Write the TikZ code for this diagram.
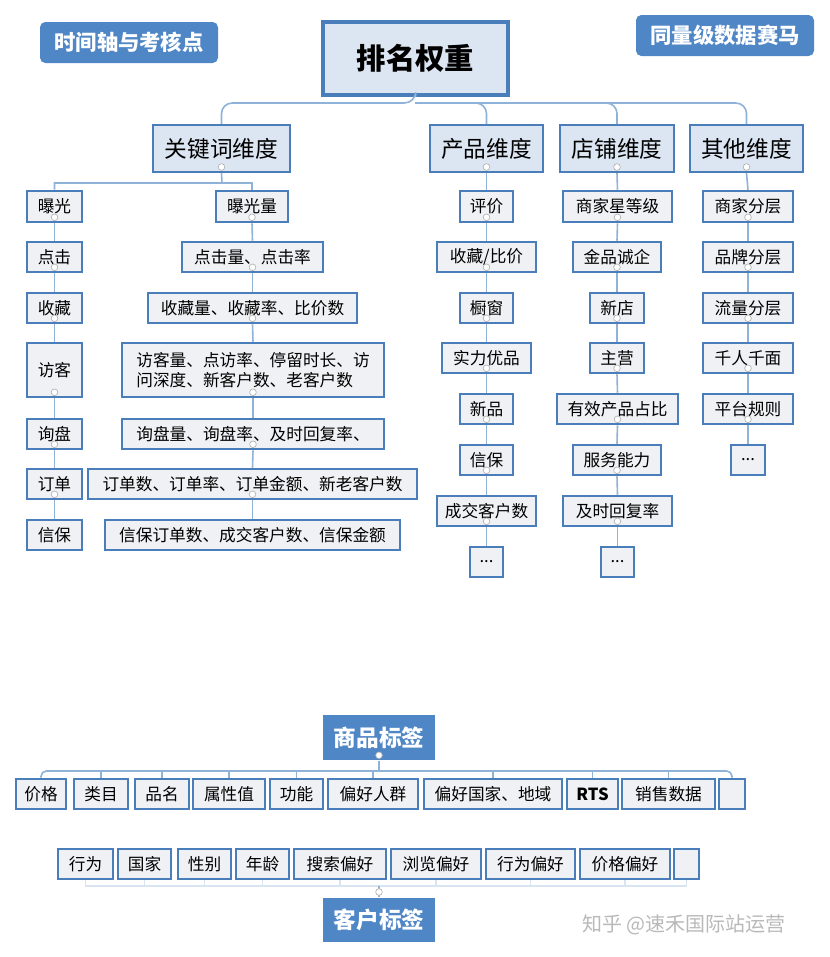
\documentclass[tikz,border=0pt]{standalone}
\usepackage{fontspec}
\setmainfont{Noto Sans CJK SC}
\usetikzlibrary{positioning}
\definecolor{edgeblue}{RGB}{74,126,187}
\definecolor{linkblue}{RGB}{143,178,217}
\definecolor{fillblue}{RGB}{79,134,198}
\definecolor{catfill}{RGB}{220,230,242}
\definecolor{itemfill}{RGB}{240,241,244}
\tikzset{every picture/.style={line width=0.75pt}}
\tikzset{
  item/.style={draw=edgeblue,fill=itemfill,line width=1.9pt,inner sep=0pt,align=center,font=\fontsize{12.5}{15}\selectfont},
  cat/.style={item,fill=catfill,line width=1.5pt,font=\fontsize{17}{20}\selectfont},
  tag/.style={fill=fillblue,text=white,inner sep=0pt,font=\bfseries\fontsize{16}{19}\selectfont},
  link/.style={draw=linkblue,line width=1.2pt},
  knob/.style={circle,draw=gray!60,fill=white,line width=0.5pt,inner sep=0pt,minimum size=5pt},
}
% box from corners (x1,y1)-(x2,y2)
\newcommand{\bx}[7][]{\node[item,#1,minimum width={(#5-#3)*0.75pt},minimum height={(#6-#4)*0.75pt}] (#2) at ({(#3+#5)/2},{(#4+#6)/2}) {#7};}
\newcommand{\mk}[1]{\node[knob] at ([yshift=-4.5pt]#1.south) {};}

\begin{document}
\begin{tikzpicture}[x=0.75pt,y=0.75pt,yscale=-1,xscale=1]
        \useasboundingbox[fill=white] (0,0) rectangle (830,957);

        % header
        \bx[tag,rounded corners=4pt,draw=none]{timeline}{40}{22}{218}{63}{时间轴与考核点}
        \bx[tag,rounded corners=4pt,draw=none]{race}{636}{15}{814}{56}{同量级数据赛马}
        \bx[cat,line width=2.6pt,font=\bfseries\fontsize{22}{26}\selectfont]{root}{323}{22}{508}{95}{排名权重}

        % dimensions
        \bx[cat]{kw}{153}{125}{290}{172}{关键词维度}
        \bx[cat]{prod}{430}{125}{543}{172}{产品维度}
        \bx[cat]{shop}{560}{125}{674}{172}{店铺维度}
        \bx[cat]{other}{690}{125}{803}{172}{其他维度}
        \coordinate (rbus) at (415,103);
        \draw[link,rounded corners=8pt] (root.south) -- (rbus) -| (kw.north);
        \draw[link,rounded corners=8pt] (rbus) -| (prod.north);
        \draw[link,rounded corners=8pt] (rbus) -| (shop.north);
        \draw[link,rounded corners=8pt] (rbus) -| (other.north);

        % keyword: stages
        \bx{s1}{27}{191}{82}{222}{曝光}
        \bx{s2}{27}{242}{82}{272}{点击}
        \bx{s3}{27}{293}{82}{323}{收藏}
        \bx{s4}{27}{343}{82}{397}{访客}
        \bx{s5}{27}{419}{82}{449}{询盘}
        \bx{s6}{27}{469}{82}{499}{订单}
        \bx{s7}{27}{520}{82}{550}{信保}
        % keyword: metrics
        \bx{m1}{216}{191}{288}{222}{曝光量}
        \bx{m2}{182}{242}{323}{272}{点击量、点击率}
        \bx{m3}{148}{293}{357}{323}{收藏量、收藏率、比价数}
        \bx[align=left]{m4}{122}{343}{384}{397}{访客量、点访率、停留时长、访\\问深度、新客户数、老客户数}
        \bx{m5}{122}{419}{384}{449}{询盘量、询盘率、及时回复率、}
        \bx{m6}{88}{469}{417}{499}{订单数、订单率、订单金额、新老客户数}
        \bx{m7}{105}{520}{400}{550}{信保订单数、成交客户数、信保金额}
        \coordinate (kwbus) at (222,183);
        \draw[link] (kw.south) -- (kwbus) -| (s1.north);
        \draw[link] (kwbus) -| (m1.north);
        \mk{kw}
        \foreach \a/\b in {s1/s2,s2/s3,s3/s4,s4/s5,s5/s6,s6/s7,m1/m2,m2/m3,m3/m4,m4/m5,m5/m6,m6/m7}
          {\draw[link] (\a.south) -- (\b.north); \mk{\a}}

        % product
        \bx{p1}{460}{191}{513}{222}{评价}
        \bx{p2}{437}{242}{536}{272}{收藏/比价}
        \bx{p3}{460}{293}{513}{323}{橱窗}
        \bx{p4}{442}{343}{531}{373}{实力优品}
        \bx{p5}{460}{394}{513}{424}{新品}
        \bx{p6}{460}{445}{513}{475}{信保}
        \bx{p7}{437}{496}{536}{526}{成交客户数}
        \bx{p8}{470}{547}{503}{577}{...}
        % shop
        \bx{d1}{563}{191}{672}{222}{商家星等级}
        \bx{d2}{573}{242}{661}{272}{金品诚企}
        \bx{d3}{590}{293}{644}{323}{新店}
        \bx{d4}{590}{343}{644}{373}{主营}
        \bx{d5}{557}{394}{678}{424}{有效产品占比}
        \bx{d6}{573}{445}{661}{475}{服务能力}
        \bx{d7}{563}{496}{672}{526}{及时回复率}
        \bx{d8}{601}{547}{634}{577}{...}
        % other
        \bx{o1}{703}{191}{793}{222}{商家分层}
        \bx{o2}{703}{242}{793}{272}{品牌分层}
        \bx{o3}{703}{293}{793}{323}{流量分层}
        \bx{o4}{703}{343}{793}{373}{千人千面}
        \bx{o5}{703}{394}{793}{424}{平台规则}
        \bx{o6}{731}{445}{765}{475}{...}
        \foreach \a/\b in {prod/p1,p1/p2,p2/p3,p3/p4,p4/p5,p5/p6,p6/p7,p7/p8,
                           shop/d1,d1/d2,d2/d3,d3/d4,d4/d5,d5/d6,d6/d7,d7/d8,
                           other/o1,o1/o2,o2/o3,o3/o4,o4/o5,o5/o6}
          {\draw[link] (\a.south) -- (\b.north); \mk{\a}}

        % goods tags
        \bx[tag,draw=none,font=\bfseries\fontsize{17}{20}\selectfont]{goods}{323}{715}{435}{760}{商品标签}
        \bx{g1}{16}{779}{66}{809}{价格}
        \bx{g2}{74}{779}{128}{809}{类目}
        \bx{g3}{135}{779}{189}{809}{品名}
        \bx{g4}{193}{779}{265}{809}{属性值}
        \bx{g5}{270}{779}{323}{809}{功能}
        \bx{g6}{328}{779}{418}{809}{偏好人群}
        \bx{g7}{424}{779}{562}{809}{偏好国家、地域}
        \bx[font=\bfseries\fontsize{12.5}{15}\selectfont]{g8}{567}{779}{618}{809}{RTS}
        \bx{g9}{622}{779}{715}{809}{销售数据}
        \bx{g10}{719}{779}{745}{809}{}
        \coordinate (gbus) at (379,771);
        \draw[link] (goods.south) -- (gbus);
        \draw[link,rounded corners=4pt] (g1.north) |- (gbus) -| (g10.north);
        \foreach \g in {g2,g3,g4,g5,g6,g7,g8,g9}
          {\draw[link] (\g.north) -- (\g.north |- gbus);}
        \mk{goods}

        % customer tags
        \bx{c1}{58}{849}{113}{879}{行为}
        \bx{c2}{118}{849}{171}{879}{国家}
        \bx{c3}{178}{849}{231}{879}{性别}
        \bx{c4}{236}{849}{289}{879}{年龄}
        \bx{c5}{294}{849}{386}{879}{搜索偏好}
        \bx{c6}{391}{849}{481}{879}{浏览偏好}
        \bx{c7}{486}{849}{575}{879}{行为偏好}
        \bx{c8}{580}{849}{670}{879}{价格偏好}
        \bx{c9}{674}{849}{699}{879}{}
        \bx[tag,draw=none,font=\bfseries\fontsize{17}{20}\selectfont]{cust}{323}{898}{435}{942}{客户标签}
        \coordinate (cbus) at (379,886);
        \draw[link,draw=linkblue!35] (c1.south) |- (cbus) -| (c9.south);
        \foreach \c in {c2,c3,c4,c5,c6,c7,c8}
          {\draw[link,draw=linkblue!35] (\c.south) -- (\c.south |- cbus);}
        \draw[link] (cbus) -- (cust.north);
        \node[knob] at (379,892) {};

        % watermark
        \node[text=gray!55,font=\fontsize{15}{18}\selectfont] (mark) at (684,925) {知乎 @速禾国际站运营};
\end{tikzpicture}
\end{document}
